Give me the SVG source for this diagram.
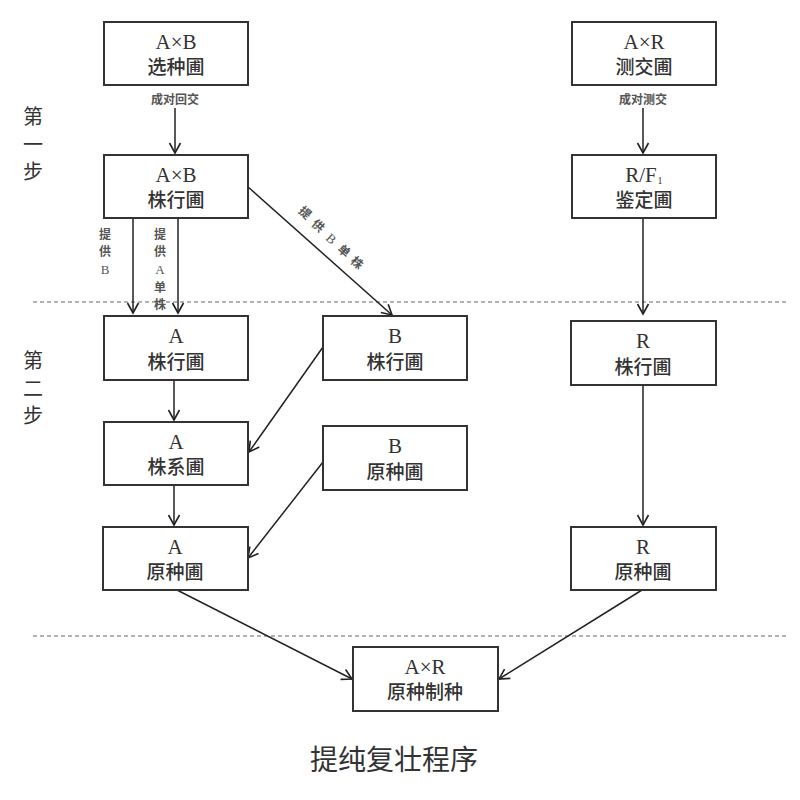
<svg xmlns="http://www.w3.org/2000/svg" width="800" height="800" viewBox="0 0 800 800">
<defs>
<marker id="arr" markerWidth="14" markerHeight="14" viewBox="-12 -7 14 14" refX="0" refY="0" orient="auto" markerUnits="userSpaceOnUse">
<path d="M-10,-5.5 L0,0 L-10,5.5" fill="none" stroke="#222" stroke-width="1.6"/>
</marker>
<style>
.box{fill:#fff;stroke:#333;stroke-width:2}
.t1{font-family:"Liberation Serif","Noto Sans CJK SC",serif;font-size:21px;fill:#333;text-anchor:middle}
.t2{font-family:"Noto Sans CJK SC",sans-serif;font-size:19px;fill:#333;text-anchor:middle;font-weight:500}
.lbl{font-family:"Noto Sans CJK SC",sans-serif;font-size:12px;fill:#555;text-anchor:middle;font-weight:700}
.lblS{font-family:"Liberation Serif","Noto Sans CJK SC",serif;font-size:13px;fill:#555;text-anchor:middle}
.step{font-family:"Noto Sans CJK SC",sans-serif;font-size:20px;fill:#333;text-anchor:middle}
.ln{fill:none;stroke:#222;stroke-width:1.5}
.dash{fill:none;stroke:#666;stroke-width:1.2;stroke-dasharray:4 3}
</style>
</defs>
<rect width="800" height="800" fill="#fff"/>

<g id="dividers">
<line class="dash" x1="33" y1="302" x2="786" y2="302"/>
<line class="dash" x1="33" y1="636" x2="786" y2="636"/>
</g>

<g id="steps">
<text class="step" x="33" y="124">第</text>
<text class="step" x="33" y="152">一</text>
<text class="step" x="33" y="179">步</text>
<text class="step" x="33" y="368">第</text>
<text class="step" x="33" y="396">二</text>
<text class="step" x="33" y="423">步</text>
</g>

<g id="connectors">
<line class="ln" x1="175" y1="108" x2="175" y2="153" marker-end="url(#arr)"/>
<line class="ln" x1="643" y1="108" x2="643" y2="153" marker-end="url(#arr)"/>
<line class="ln" x1="133" y1="218" x2="133" y2="313" marker-end="url(#arr)"/>
<line class="ln" x1="178" y1="218" x2="178" y2="313" marker-end="url(#arr)"/>
<line class="ln" x1="247" y1="186" x2="392" y2="315" marker-end="url(#arr)"/>
<line class="ln" x1="643" y1="218" x2="643" y2="314" marker-end="url(#arr)"/>
<line class="ln" x1="174" y1="380" x2="174" y2="420" marker-end="url(#arr)"/>
<line class="ln" x1="174" y1="485" x2="174" y2="525" marker-end="url(#arr)"/>
<line class="ln" x1="323" y1="347" x2="249" y2="452" marker-end="url(#arr)"/>
<line class="ln" x1="323" y1="462" x2="248" y2="558" marker-end="url(#arr)"/>
<line class="ln" x1="643" y1="385" x2="643" y2="525" marker-end="url(#arr)"/>
<line class="ln" x1="177" y1="590" x2="352" y2="679" marker-end="url(#arr)"/>
<line class="ln" x1="642" y1="590" x2="499" y2="679" marker-end="url(#arr)"/>
<text class="lbl" x="175" y="104">成对回交</text>
<text class="lbl" x="643" y="104">成对测交</text>
<g id="lbl-b">
<text class="lbl" x="105" y="239">提</text>
<text class="lbl" x="105" y="256">供</text>
<text class="lblS" x="105" y="274">B</text>
</g>
<g id="lbl-a">
<text class="lbl" x="160" y="239">提</text>
<text class="lbl" x="160" y="256">供</text>
<text class="lblS" x="160" y="274">A</text>
<text class="lbl" x="160" y="292">单</text>
<text class="lbl" x="160" y="309">株</text>
</g>
<g id="lbl-diag">
<text class="lbl" transform="translate(305,213) rotate(41.5)" y="4">提</text>
<text class="lbl" transform="translate(318,226) rotate(41.5)" y="4">供</text>
<text class="lblS" transform="translate(331,239) rotate(41.5)" y="4">B</text>
<text class="lbl" transform="translate(344,251) rotate(41.5)" y="4">单</text>
<text class="lbl" transform="translate(357,263) rotate(41.5)" y="4">株</text>
</g>
</g>

<g id="n-axb-select">
<rect class="box" x="104" y="22" width="144" height="63"/>
<text class="t1" x="176" y="49">A×B</text>
<text class="t2" x="176" y="74">选种圃</text>
</g>
<g id="n-axb-row">
<rect class="box" x="104" y="155" width="144" height="63"/>
<text class="t1" x="176" y="182">A×B</text>
<text class="t2" x="176" y="207">株行圃</text>
</g>
<g id="n-axr-test">
<rect class="box" x="572" y="22" width="144" height="63"/>
<text class="t1" x="644" y="49">A×R</text>
<text class="t2" x="644" y="74">测交圃</text>
</g>
<g id="n-rf1">
<rect class="box" x="572" y="155" width="144" height="63"/>
<text class="t1" x="641" y="182">R/F</text>
<text x="657.5" y="184" font-family="Liberation Serif, serif" font-size="10" fill="#333">1</text>
<text class="t2" x="644" y="207">鉴定圃</text>
</g>
<g id="n-a-row">
<rect class="box" x="104" y="316" width="144" height="64"/>
<text class="t1" x="176" y="343">A</text>
<text class="t2" x="176" y="369">株行圃</text>
</g>
<g id="n-b-row">
<rect class="box" x="323" y="316" width="144" height="64"/>
<text class="t1" x="395" y="343">B</text>
<text class="t2" x="395" y="369">株行圃</text>
</g>
<g id="n-a-line">
<rect class="box" x="104" y="422" width="144" height="63"/>
<text class="t1" x="176" y="449">A</text>
<text class="t2" x="176" y="474">株系圃</text>
</g>
<g id="n-b-orig">
<rect class="box" x="323" y="426" width="144" height="64"/>
<text class="t1" x="395" y="453">B</text>
<text class="t2" x="395" y="479">原种圃</text>
</g>
<g id="n-a-orig">
<rect class="box" x="103" y="527" width="145" height="63"/>
<text class="t1" x="175" y="554">A</text>
<text class="t2" x="175" y="579">原种圃</text>
</g>
<g id="n-r-row">
<rect class="box" x="571" y="321" width="145" height="64"/>
<text class="t1" x="643" y="348">R</text>
<text class="t2" x="643" y="374">株行圃</text>
</g>
<g id="n-r-orig">
<rect class="box" x="571" y="527" width="145" height="63"/>
<text class="t1" x="643" y="554">R</text>
<text class="t2" x="643" y="579">原种圃</text>
</g>
<g id="n-axr-seed">
<rect class="box" x="353" y="647" width="145" height="64"/>
<text class="t1" x="425" y="674">A×R</text>
<text class="t2" x="425" y="699">原种制种</text>
</g>

<text id="title" x="394" y="770" font-family="Noto Sans CJK SC, sans-serif" font-size="28" fill="#333" text-anchor="middle">提纯复壮程序</text>
</svg>
